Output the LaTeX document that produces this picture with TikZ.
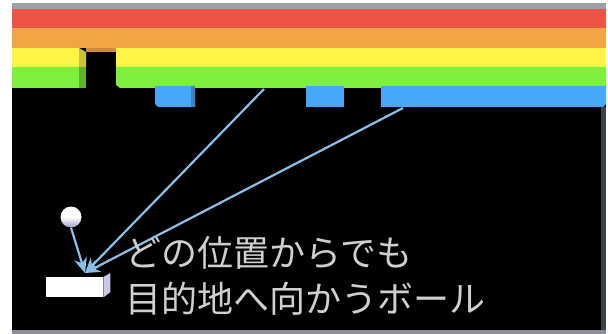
\documentclass[tikz,border=0pt]{standalone}
\usepackage{fontspec}
\newfontfamily\jpfont{Noto Sans CJK JP}
\usetikzlibrary{arrows.meta}
\definecolor{brkred}{HTML}{EE5446}
\definecolor{brkorange}{HTML}{F3A444}
\definecolor{brkyellow}{HTML}{FEF446}
\definecolor{brkgreen}{HTML}{7CF03A}
\definecolor{brkblue}{HTML}{46A8F8}
\definecolor{pathblue}{HTML}{8DBEE6}
\definecolor{frametop}{HTML}{98A0AA}
\definecolor{frameside}{HTML}{3C4048}
\definecolor{captiongray}{HTML}{CFCFCF}
\tikzset{
  shot/.style={pathblue, line width=2.2pt, -{Stealth[length=15pt,width=13pt]}},
  caption/.style={text=captiongray, font=\jpfont\fontsize{36}{40}\selectfont, anchor=base west, inner sep=0pt},
}
\begin{document}
\begin{tikzpicture}[x=1pt,y=-1pt]
\useasboundingbox (0,0) rectangle (608,334);
\fill[white] (0,0) rectangle (608,334);
% playfield and frame
\fill[black] (12,3) rectangle (606,334);
\fill[frametop] (12,3) rectangle (606,9);
\fill[frameside] (601,107) rectangle (606,330);
\fill[frametop!90!black] (12,330) rectangle (606,334);
% brick rows
\fill[brkred] (12,9) rectangle (606,28);
\fill[brkorange] (12,28) rectangle (606,48);
\fill[brkorange!85!black] (86,48) rectangle (116,52);
% yellow and green rows, left part with a shaded side face
\fill[brkyellow] (12,48) rectangle (79,67);
\fill[brkyellow!80!black] (79,48) -- (86,52) -- (86,67) -- (79,67) -- cycle;
\fill[brkgreen] (12,67) rectangle (79,88);
\fill[brkgreen!75!black] (79,67) rectangle (86,88);
% yellow and green rows, right part
\fill[brkyellow] (116,48) rectangle (606,67);
\fill[brkgreen] (116,67) -- (606,67) -- (606,88) -- (120,88) -- (116,85) -- cycle;
% blue bricks
\fill[brkblue] (155,86) -- (195,86) -- (195,107) -- (158,107) -- (155,104) -- cycle;
\fill[brkblue!80!black] (191,86) rectangle (195,107);
\fill[brkblue] (306,86) rectangle (344,107);
\fill[brkblue] (381,86) -- (606,86) -- (606,104) -- (603,107) -- (381,107) -- cycle;
% paddle
\node[fill=white, minimum width=57pt, minimum height=20pt, inner sep=0pt, anchor=north west] (paddle) at (46,277) {};
\fill[gray!60!blue!30] (paddle.north east) -- ++(7,-4) -- ++(0,19) -- (paddle.south east) -- cycle;
% ball
\node[circle, minimum size=21pt, inner sep=0pt, top color=white, bottom color=blue!25!gray!60, middle color=white] (ball) at (71,217) {};
% aim points on the bricks and the common target
\coordinate (hitA) at (264,89);
\coordinate (hitB) at (403,108);
\coordinate (target) at (85,273);
\draw[shot] (hitA) -- (target);
\draw[shot] (hitB) -- (target);
\draw[shot] (ball.south) -- (target);
% caption
\node[caption] (line1) at (125,266) {どの位置からでも};
\node[caption] (line2) at (125,312) {目的地へ向かうボール};
\end{tikzpicture}
\end{document}
